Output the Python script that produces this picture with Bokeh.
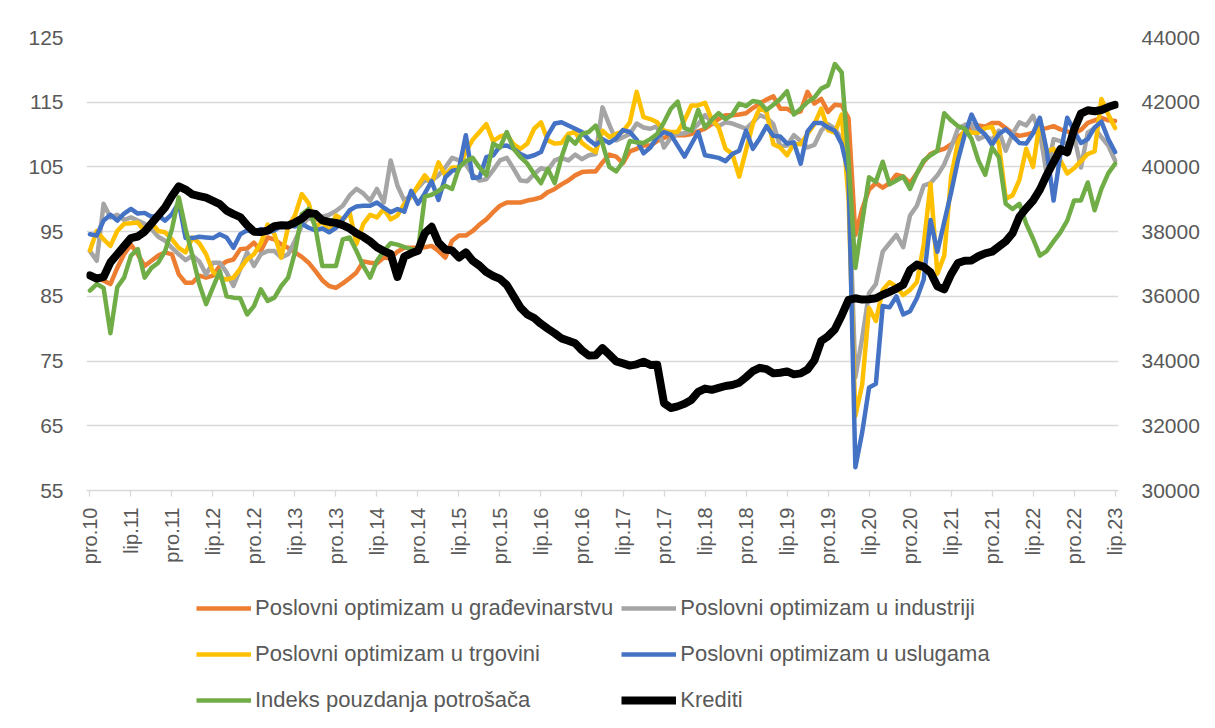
import numpy as np
from bokeh.plotting import figure
from bokeh.layouts import column
from bokeh.models import Range1d, LinearAxis, Legend, LegendItem, FixedTicker
from bokeh.embed import file_html
from bokeh.resources import INLINE

# ---- data -----------------------------------------------------------------
tick_labels = ["pro.10", "lip.11", "pro.11", "lip.12", "pro.12", "lip.13", "pro.13",
               "lip.14", "pro.14", "lip.15", "pro.15", "lip.16", "pro.16", "lip.17",
               "pro.17", "lip.18", "pro.18", "lip.19", "pro.19", "lip.20", "pro.20",
               "lip.21", "pro.21", "lip.22", "pro.22", "lip.23"]

series_names = ["Poslovni optimizam u građevinarstvu",
                "Poslovni optimizam u industriji",
                "Poslovni optimizam u trgovini",
                "Poslovni optimizam u uslugama",
                "Indeks pouzdanja potrošača",
                "Krediti"]

gradjevinarstvo = [
    88.4, 87.9, 87.4, 86.9, 89.4, 91.5, 93.0, 91.5, 89.7, 90.5, 91.3, 91.8, 91.5, 88.4, 87.1, 87.1,
    88.2, 87.9, 88.2, 89.7, 90.4, 90.7, 92.3, 92.4, 93.3, 92.0, 94.1, 93.8, 93.0, 92.5, 91.8, 91.1,
    90.2, 88.9, 87.5, 86.6, 86.3, 87.0, 87.8, 88.7, 90.4, 90.2, 90.1, 91.0, 90.9, 91.9, 92.5, 92.5,
    92.5, 92.6, 92.8, 92.0, 91.0, 93.6, 94.4, 94.4, 95.1, 96.1, 96.9, 98.0, 99.0, 99.5, 99.5, 99.5,
    99.8, 100.0, 100.3, 101.1, 101.6, 102.3, 102.9, 103.7, 104.2, 104.3, 104.3, 105.7, 106.9, 106.6,
    105.6, 107.4, 107.8, 108.3, 108.3, 109.0, 109.5, 109.9, 109.9, 109.9, 110.1, 110.5, 110.9, 111.6,
    112.4, 113.0, 113.0, 113.1, 113.3, 114.1, 114.8, 115.4, 115.9, 114.0, 114.0, 113.3, 113.6, 116.6,
    114.8, 115.5, 113.5, 114.6, 114.5, 112.5, 94.5, 98.5, 101.5, 102.5, 101.8, 102.5, 103.8, 103.5,
    102.5, 104.0, 105.8, 107.0, 107.5, 107.8, 108.5, 109.5, 110.5, 111.0, 111.4, 111.2, 111.8, 111.8,
    111.0, 110.2, 109.8, 110.0, 110.3, 110.8, 111.0, 111.3, 110.8, 110.5, 110.2, 110.7, 111.8, 112.2,
    112.6, 112.2, 112.1]

industrija = [
    92.0, 90.5, 99.3, 97.2, 97.6, 96.8, 97.2, 96.7, 96.2, 95.4, 94.2, 93.6, 92.5, 91.5, 90.6, 91.3,
    90.4, 88.4, 90.2, 90.2, 88.7, 86.6, 89.2, 91.8, 89.7, 91.5, 92.0, 92.0, 91.0, 91.5, 93.6, 95.9,
    97.2, 96.8, 97.3, 97.6, 98.2, 99.0, 100.6, 101.6, 100.9, 99.8, 101.6, 99.5, 106.0, 102.1, 99.8,
    100.6, 101.8, 102.9, 102.9, 103.7, 104.9, 106.4, 106.0, 105.4, 103.8, 102.9, 103.1, 104.5, 106.0,
    106.4, 104.7, 102.9, 102.8, 103.9, 104.8, 104.5, 106.0, 106.4, 106.0, 106.9, 106.2, 106.8, 107.0,
    114.2, 111.5, 109.1, 109.6, 110.1, 111.7, 111.1, 110.9, 111.3, 108.0, 109.5, 110.1, 110.2, 110.6,
    111.6, 113.0, 111.9, 111.3, 111.9, 111.7, 111.3, 110.9, 111.9, 113.0, 112.6, 111.6, 108.2, 108.3,
    109.9, 109.0, 108.0, 108.4, 110.6, 111.6, 110.9, 109.2, 104.0, 72.5, 78.6, 85.5, 86.9, 91.9, 93.2,
    94.5, 92.6, 97.5, 99.0, 102.1, 102.5, 103.7, 105.4, 108.0, 110.9, 111.5, 111.6, 109.3, 109.8,
    109.2, 110.6, 107.5, 110.1, 111.9, 111.4, 112.9, 110.3, 103.9, 109.3, 109.0, 108.6, 109.8, 104.9,
    110.3, 111.0, 109.6, 108.3, 106.0]

trgovina = [
    92.1, 95.1, 93.8, 92.8, 95.1, 96.2, 96.3, 96.4, 95.1, 96.4, 95.1, 94.9, 93.8, 92.5, 91.8, 94.1,
    93.2, 91.5, 88.8, 87.9, 87.6, 87.9, 89.3, 90.7, 91.5, 93.2, 96.1, 94.6, 91.0, 95.7, 97.5, 100.8,
    99.4, 95.7, 96.6, 95.0, 97.5, 96.8, 98.0, 93.1, 96.2, 97.6, 97.2, 98.5, 96.9, 97.5, 99.3, 100.4,
    102.1, 103.7, 102.4, 105.7, 103.7, 104.9, 104.9, 107.3, 109.2, 110.4, 111.6, 109.0, 109.7, 110.0,
    108.5, 107.8, 108.6, 110.9, 111.9, 109.1, 108.6, 108.7, 110.1, 110.4, 108.7, 107.9, 107.3, 110.6,
    109.6, 110.1, 110.5, 111.9, 116.6, 112.7, 112.4, 111.9, 110.6, 110.4, 110.4, 112.2, 114.5, 114.5,
    114.9, 112.3, 111.1, 107.8, 107.0, 103.5, 107.6, 111.7, 114.1, 113.5, 108.5, 108.0, 106.8, 108.6,
    108.5, 110.1, 111.6, 114.0, 110.7, 110.3, 113.1, 100.0, 66.5, 71.4, 83.2, 81.2, 86.0, 87.2, 86.5,
    85.2, 86.0, 87.2, 93.0, 102.4, 88.5, 91.3, 103.4, 108.8, 110.7, 110.3, 110.3, 111.0, 111.2, 108.5,
    100.1, 100.6, 103.0, 107.8, 105.0, 112.1, 107.3, 107.8, 106.0, 104.0, 104.8, 105.9, 107.0, 107.4,
    115.5, 113.1, 111.0]

usluge = [
    94.6, 94.4, 96.7, 97.6, 96.7, 97.8, 98.5, 97.8, 97.9, 97.3, 97.5, 96.7, 97.7, 99.5, 94.0, 94.0,
    94.2, 94.1, 94.0, 94.6, 94.1, 92.5, 94.6, 95.2, 94.9, 95.4, 94.9, 95.2, 95.9, 96.1, 95.8, 96.2,
    95.6, 95.2, 95.5, 94.9, 95.6, 96.9, 98.3, 98.9, 99.0, 99.0, 99.5, 98.7, 98.0, 98.5, 98.1, 101.3,
    99.3, 100.9, 102.8, 99.9, 103.4, 104.4, 104.7, 109.9, 103.3, 103.4, 106.5, 106.8, 108.2, 108.3,
    107.8, 107.0, 106.5, 106.8, 107.3, 109.9, 111.7, 111.9, 111.4, 110.9, 110.4, 109.2, 108.4, 109.3,
    108.7, 109.4, 110.7, 110.4, 109.2, 107.1, 108.0, 109.6, 110.4, 110.0, 108.3, 106.6, 108.5, 110.4,
    106.8, 106.6, 106.4, 105.9, 107.0, 107.5, 110.6, 107.8, 109.4, 111.3, 109.8, 109.7, 108.6, 108.8,
    105.5, 110.5, 111.8, 111.8, 111.1, 110.6, 108.5, 104.0, 58.6, 64.0, 70.9, 71.5, 83.5, 83.3, 85.0,
    82.2, 82.7, 84.7, 87.6, 96.8, 91.9, 96.5, 101.0, 106.0, 110.0, 113.1, 110.9, 110.0, 108.4, 110.1,
    110.8, 109.8, 108.7, 108.6, 110.2, 112.6, 107.5, 99.8, 107.0, 112.6, 110.6, 108.7, 109.3, 111.1,
    112.0, 109.3, 107.3]

potrosaci = [
    85.9, 86.9, 86.3, 79.3, 86.4, 87.9, 91.3, 92.3, 87.9, 89.4, 90.2, 92.0, 95.4, 100.3, 95.4, 91.3,
    86.9, 83.8, 86.4, 88.9, 85.0, 84.8, 84.7, 82.2, 83.5, 86.1, 84.3, 84.8, 86.6, 87.9, 91.8, 97.7,
    98.5, 95.6, 89.7, 89.7, 89.7, 93.8, 94.1, 92.0, 89.7, 87.9, 90.5, 92.0, 93.2, 93.0, 92.6, 92.3,
    92.0, 100.4, 100.7, 101.3, 102.1, 101.6, 104.9, 105.9, 106.4, 104.9, 103.7, 108.6, 108.0, 110.4,
    107.8, 106.5, 105.5, 103.9, 102.5, 104.7, 102.5, 106.5, 109.6, 108.6, 110.1, 110.4, 111.4, 108.6,
    105.0, 104.3, 105.8, 109.0, 108.8, 108.7, 109.3, 110.1, 111.9, 114.0, 115.1, 111.0, 110.6, 113.8,
    111.1, 112.3, 113.3, 112.4, 113.1, 114.8, 114.4, 115.2, 115.0, 113.8, 114.6, 115.5, 116.7, 113.1,
    114.0, 115.0, 115.7, 117.1, 117.6, 120.9, 119.6, 106.0, 89.4, 96.5, 103.4, 102.7, 105.8, 102.3,
    102.9, 103.5, 101.6, 104.0, 106.0, 106.8, 107.5, 113.3, 112.2, 111.3, 110.9, 109.3, 106.0, 103.8,
    108.0, 106.5, 99.3, 98.5, 99.3, 96.2, 93.9, 91.3, 92.0, 93.5, 94.9, 96.7, 99.8, 99.8, 102.6, 98.3,
    101.6, 104.0, 105.5]

krediti = [
    36650, 36550, 36600, 37050, 37300, 37550, 37800, 37850, 38000, 38250, 38500, 38750, 39100, 39400,
    39300, 39150, 39100, 39050, 38950, 38850, 38650, 38540, 38450, 38200, 38000, 37990, 38030, 38170,
    38200, 38190, 38280, 38400, 38580, 38550, 38350, 38300, 38270, 38200, 38100, 37950, 37840, 37700,
    37520, 37400, 37310, 36600, 37230, 37330, 37410, 37950, 38150, 37660, 37450, 37420, 37200, 37360,
    37100, 36950, 36750, 36630, 36540, 36350, 36000, 35650, 35440, 35330, 35150, 35000, 34860, 34700,
    34630, 34550, 34330, 34170, 34180, 34400, 34200, 33990, 33930, 33860, 33900, 33980, 33880, 33890,
    32700, 32550, 32600, 32680, 32800, 33050, 33150, 33110, 33170, 33230, 33260, 33330, 33500, 33690,
    33790, 33750, 33620, 33640, 33680, 33590, 33620, 33740, 34020, 34620, 34770, 34980, 35410, 35890,
    35940, 35900, 35910, 35940, 36050, 36140, 36240, 36360, 36820, 36980, 36910, 36740, 36310, 36220,
    36680, 37030, 37100, 37110, 37240, 37330, 37380, 37540, 37700, 37950, 38460, 38720, 38960, 39300,
    39750, 40150, 40550, 40450, 41150, 41650, 41750, 41720, 41760, 41850, 41920]

colors = ["#ED7D31", "#A5A5A5", "#FFC000", "#4472C4", "#70AD47", "#000000"]
widths = [4.5, 4.5, 4.5, 4.5, 4.5, 8]

# ---- figure -----------------------------------------------------------------
FONT = "Liberation Sans"
TXT = "#595959"
GRID = "#D9D9D9"

n = len(krediti)
x = list(range(n))
all_series = [gradjevinarstvo, industrija, trgovina, usluge, potrosaci, krediti]

W = 1207
p = figure(width=W, height=580, output_backend="svg", toolbar_location=None,
           x_range=Range1d(-0.5, n - 0.5), y_range=Range1d(55, 125),
           min_border_left=86, min_border_right=W - 1118, min_border_top=37,
           min_border_bottom=90)
p.outline_line_color = None
p.background_fill_color = "white"
p.border_fill_color = "white"
p.extra_y_ranges = {"kred": Range1d(30000, 44000)}

# grid
p.xgrid.grid_line_color = None
p.ygrid.ticker = FixedTicker(ticks=list(range(55, 126, 10)))
p.ygrid.grid_line_color = GRID
p.ygrid.grid_line_width = 1.3

# left axis
yl = p.yaxis[0]
yl.ticker = FixedTicker(ticks=list(range(55, 126, 10)))
yl.axis_line_color = None
yl.major_tick_line_color = None
yl.minor_tick_line_color = None
yl.major_label_standoff = 17
yl.major_label_text_font = FONT
yl.major_label_text_font_size = "21px"
yl.major_label_text_color = TXT

# right axis
yr = LinearAxis(y_range_name="kred",
                ticker=FixedTicker(ticks=list(range(30000, 44001, 2000))))
yr.axis_line_color = None
yr.major_tick_line_color = None
yr.minor_tick_line_color = None
yr.major_label_standoff = 17
yr.major_label_text_font = FONT
yr.major_label_text_font_size = "21px"
yr.major_label_text_color = TXT
p.add_layout(yr, "right")

# bottom axis
xa = p.xaxis[0]
tick_pos = list(range(0, n, 6))
xa.ticker = FixedTicker(ticks=tick_pos)
xa.major_label_overrides = {t: lab for t, lab in zip(tick_pos, tick_labels)}
xa.major_label_orientation = np.pi / 2
xa.axis_line_color = GRID
xa.axis_line_width = 1.3
xa.major_tick_line_color = GRID
xa.major_tick_line_width = 1.3
xa.major_tick_in = 0
xa.major_tick_out = 6
xa.minor_tick_line_color = None
xa.major_label_standoff = 11
xa.major_label_text_font = FONT
xa.major_label_text_font_size = "20px"
xa.major_label_text_color = TXT

# lines
for vals, col, w in zip(all_series[:5], colors[:5], widths[:5]):
    p.line(x, vals, line_color=col, line_width=w, line_join="round", line_cap="round")
p.line(x, krediti, y_range_name="kred", line_color=colors[5], line_width=widths[5],
       line_join="round", line_cap="round")

# ---- legend (separate strip below the chart) --------------------------------
lg = figure(width=W, height=140, output_backend="svg", toolbar_location=None,
            x_axis_location=None, y_axis_location=None, min_border=0,
            x_range=Range1d(0, 1), y_range=Range1d(0, 1))
lg.outline_line_color = None
lg.xgrid.grid_line_color = None
lg.ygrid.grid_line_color = None
items = []
for name, vals, col, w in zip(series_names, all_series, colors, widths):
    # same data, far outside this strip's ranges: only the legend swatch shows
    r = lg.line(x, vals, line_color=col, line_width=w)
    items.append(LegendItem(label=name, renderers=[r]))
legend = Legend(items=items, orientation="horizontal", ncols=2, location=(110, 1),
                glyph_width=55, glyph_height=38, label_height=38, label_standoff=4,
                spacing=8, padding=0, margin=0, border_line_color=None,
                background_fill_alpha=0, label_text_font=FONT,
                label_text_font_size="22px", label_text_color=TXT)
lg.add_layout(legend, "center")

page = column(p, lg, spacing=0)
open("out.html", "w").write(file_html(page, INLINE))
